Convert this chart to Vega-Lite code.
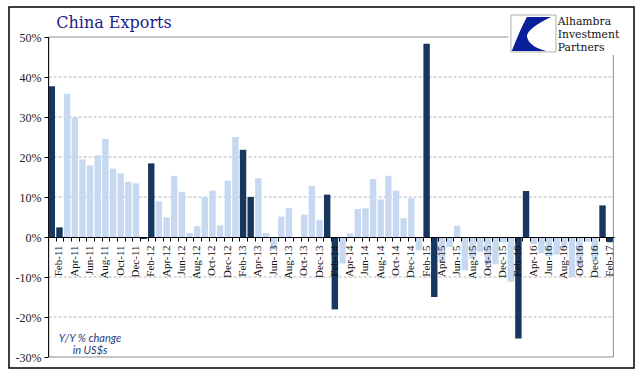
{
  "$schema": "https://vega.github.io/schema/vega-lite/v6.json",
  "width": 625,
  "height": 361,
  "autosize": {"type": "none"},
  "padding": {"left": 9, "top": 7, "right": 7, "bottom": 13},
  "background": "white",
  "config": {"view": {"stroke": "black", "strokeWidth": 1.5}},
  "data": {"values": [
    {"month": "Jan-11", "pct": 37.7, "period": "Lunar New Year"},
    {"month": "Feb-11", "pct": 2.4, "period": "Lunar New Year"},
    {"month": "Mar-11", "pct": 35.8, "period": "Other"},
    {"month": "Apr-11", "pct": 29.9, "period": "Other"},
    {"month": "May-11", "pct": 19.4, "period": "Other"},
    {"month": "Jun-11", "pct": 17.9, "period": "Other"},
    {"month": "Jul-11", "pct": 20.4, "period": "Other"},
    {"month": "Aug-11", "pct": 24.5, "period": "Other"},
    {"month": "Sep-11", "pct": 17.1, "period": "Other"},
    {"month": "Oct-11", "pct": 15.9, "period": "Other"},
    {"month": "Nov-11", "pct": 13.8, "period": "Other"},
    {"month": "Dec-11", "pct": 13.4, "period": "Other"},
    {"month": "Jan-12", "pct": -0.5, "period": "Lunar New Year"},
    {"month": "Feb-12", "pct": 18.4, "period": "Lunar New Year"},
    {"month": "Mar-12", "pct": 8.9, "period": "Other"},
    {"month": "Apr-12", "pct": 4.9, "period": "Other"},
    {"month": "May-12", "pct": 15.3, "period": "Other"},
    {"month": "Jun-12", "pct": 11.3, "period": "Other"},
    {"month": "Jul-12", "pct": 1.0, "period": "Other"},
    {"month": "Aug-12", "pct": 2.7, "period": "Other"},
    {"month": "Sep-12", "pct": 9.9, "period": "Other"},
    {"month": "Oct-12", "pct": 11.6, "period": "Other"},
    {"month": "Nov-12", "pct": 2.9, "period": "Other"},
    {"month": "Dec-12", "pct": 14.1, "period": "Other"},
    {"month": "Jan-13", "pct": 25.0, "period": "Other"},
    {"month": "Feb-13", "pct": 21.8, "period": "Lunar New Year"},
    {"month": "Mar-13", "pct": 10.0, "period": "Lunar New Year"},
    {"month": "Apr-13", "pct": 14.7, "period": "Other"},
    {"month": "May-13", "pct": 1.0, "period": "Other"},
    {"month": "Jun-13", "pct": -3.1, "period": "Other"},
    {"month": "Jul-13", "pct": 5.1, "period": "Other"},
    {"month": "Aug-13", "pct": 7.2, "period": "Other"},
    {"month": "Sep-13", "pct": -0.3, "period": "Other"},
    {"month": "Oct-13", "pct": 5.6, "period": "Other"},
    {"month": "Nov-13", "pct": 12.7, "period": "Other"},
    {"month": "Dec-13", "pct": 4.3, "period": "Other"},
    {"month": "Jan-14", "pct": 10.6, "period": "Lunar New Year"},
    {"month": "Feb-14", "pct": -18.1, "period": "Lunar New Year"},
    {"month": "Mar-14", "pct": -6.6, "period": "Other"},
    {"month": "Apr-14", "pct": 0.9, "period": "Other"},
    {"month": "May-14", "pct": 7.0, "period": "Other"},
    {"month": "Jun-14", "pct": 7.2, "period": "Other"},
    {"month": "Jul-14", "pct": 14.5, "period": "Other"},
    {"month": "Aug-14", "pct": 9.4, "period": "Other"},
    {"month": "Sep-14", "pct": 15.3, "period": "Other"},
    {"month": "Oct-14", "pct": 11.6, "period": "Other"},
    {"month": "Nov-14", "pct": 4.7, "period": "Other"},
    {"month": "Dec-14", "pct": 9.7, "period": "Other"},
    {"month": "Jan-15", "pct": -3.3, "period": "Other"},
    {"month": "Feb-15", "pct": 48.3, "period": "Lunar New Year"},
    {"month": "Mar-15", "pct": -15.0, "period": "Lunar New Year"},
    {"month": "Apr-15", "pct": -6.4, "period": "Other"},
    {"month": "May-15", "pct": -2.5, "period": "Other"},
    {"month": "Jun-15", "pct": 2.8, "period": "Other"},
    {"month": "Jul-15", "pct": -8.3, "period": "Other"},
    {"month": "Aug-15", "pct": -5.5, "period": "Other"},
    {"month": "Sep-15", "pct": -3.7, "period": "Other"},
    {"month": "Oct-15", "pct": -6.9, "period": "Other"},
    {"month": "Nov-15", "pct": -6.8, "period": "Other"},
    {"month": "Dec-15", "pct": -1.4, "period": "Other"},
    {"month": "Jan-16", "pct": -11.2, "period": "Other"},
    {"month": "Feb-16", "pct": -25.4, "period": "Lunar New Year"},
    {"month": "Mar-16", "pct": 11.5, "period": "Lunar New Year"},
    {"month": "Apr-16", "pct": -1.8, "period": "Other"},
    {"month": "May-16", "pct": -4.1, "period": "Other"},
    {"month": "Jun-16", "pct": -4.8, "period": "Other"},
    {"month": "Jul-16", "pct": -4.4, "period": "Other"},
    {"month": "Aug-16", "pct": -2.8, "period": "Other"},
    {"month": "Sep-16", "pct": -10.0, "period": "Other"},
    {"month": "Oct-16", "pct": -7.3, "period": "Other"},
    {"month": "Nov-16", "pct": -1.2, "period": "Other"},
    {"month": "Dec-16", "pct": -6.1, "period": "Other"},
    {"month": "Jan-17", "pct": 7.9, "period": "Lunar New Year"},
    {"month": "Feb-17", "pct": -1.3, "period": "Lunar New Year"}
  ]},
  "layer": [
    {
      "data": {"values": [{"g": -20}, {"g": -10}, {"g": 10}, {"g": 20}, {"g": 30}, {"g": 40}]},
      "mark": {"type": "rule", "color": "#b5b5b5", "strokeWidth": 1, "strokeDash": [3, 2]},
      "encoding": {
        "x": {"datum": "Jan-11", "type": "ordinal", "bandPosition": 0},
        "x2": {"datum": "Feb-17", "bandPosition": 1},
        "y": {"field": "g", "type": "quantitative", "title": null}
      }
    },
    {
      "mark": {"type": "bar"},
      "encoding": {
        "x": {
          "field": "month", "type": "ordinal", "sort": null,
          "scale": {
            "domain": ["Jan-11","Feb-11","Mar-11","Apr-11","May-11","Jun-11","Jul-11","Aug-11","Sep-11","Oct-11","Nov-11","Dec-11",
                       "Jan-12","Feb-12","Mar-12","Apr-12","May-12","Jun-12","Jul-12","Aug-12","Sep-12","Oct-12","Nov-12","Dec-12",
                       "Jan-13","Feb-13","Mar-13","Apr-13","May-13","Jun-13","Jul-13","Aug-13","Sep-13","Oct-13","Nov-13","Dec-13",
                       "Jan-14","Feb-14","Mar-14","Apr-14","May-14","Jun-14","Jul-14","Aug-14","Sep-14","Oct-14","Nov-14","Dec-14",
                       "Jan-15","Feb-15","Mar-15","Apr-15","May-15","Jun-15","Jul-15","Aug-15","Sep-15","Oct-15","Nov-15","Dec-15",
                       "Jan-16","Feb-16","Mar-16","Apr-16","May-16","Jun-16","Jul-16","Aug-16","Sep-16","Oct-16","Nov-16","Dec-16",
                       "Jan-17","Feb-17"],
            "range": [39, 605],
            "paddingInner": 0.16,
            "paddingOuter": 0.08
          },
          "axis": {
            "title": null, "orient": "bottom", "offset": -131, "bandPosition": 0,
            "labelAngle": -90, "labelAlign": "right", "labelBaseline": "middle",
            "labelExpr": "test(/^(Feb|Apr|Jun|Aug|Oct|Dec)/, datum.value) ? datum.value : ''",
            "labelFont": "Liberation Serif", "labelFontSize": 11, "labelColor": "#111111",
            "labelPadding": 4, "tickSize": 4, "tickColor": "#000000", "domainColor": "#000000",
            "labelOverlap": false, "labelBound": false, "labelFlush": false, "zindex": 1, "grid": false
          }
        },
        "y": {
          "field": "pct", "type": "quantitative",
          "scale": {"domain": [-32.75, 57.5], "nice": false, "zero": false},
          "axis": {
            "title": null, "orient": "left", "offset": -39, "values": [-30, -20, -10, 0, 10, 20, 30, 40, 50],
            "labelExpr": "datum.value + '%'", "grid": false, "domain": false,
            "labelFont": "Liberation Serif", "labelFontSize": 12, "labelColor": "#222222",
            "tickSize": 4, "tickColor": "#000000", "labelPadding": 3
          }
        },
        "y2": {"datum": 0},
        "color": {
          "field": "period", "type": "nominal",
          "scale": {"domain": ["Lunar New Year", "Other"], "range": ["#17375e", "#c6d9f1"]},
          "legend": null
        }
      }
    },
    {
      "data": {"values": [{}]},
      "mark": {"type": "rect", "fillOpacity": 0, "stroke": "#8c8c8c", "strokeWidth": 1},
      "encoding": {
        "x": {"datum": "Jan-11", "type": "ordinal", "bandPosition": 0},
        "x2": {"datum": "Feb-17", "bandPosition": 1},
        "y": {"datum": 50, "type": "quantitative"},
        "y2": {"datum": -30}
      }
    },
    {
      "data": {"values": [{}]},
      "mark": {"type": "rule", "color": "#000000", "strokeWidth": 1},
      "encoding": {
        "x": {"datum": "Jan-11", "type": "ordinal", "bandPosition": 0},
        "y": {"datum": 50, "type": "quantitative"},
        "y2": {"datum": -30}
      }
    },
    {
      "data": {"values": [{}]},
      "mark": {"type": "point", "shape": "M-1,-0.339H1V0.339H-1Z", "size": 15376, "filled": true, "fill": "#ffffff", "fillOpacity": 1, "strokeWidth": 0, "opacity": 1},
      "encoding": {
        "x": {"datum": "Sep-16", "type": "ordinal", "bandPosition": 0.24},
        "y": {"datum": 50.75, "type": "quantitative"}
      }
    },
    {
      "data": {"values": [{}]},
      "mark": {"type": "point", "shape": "M-1,-0.82H1V0.82H-1Z", "size": 2025, "filled": false, "fill": "#ffffff", "fillOpacity": 1, "stroke": "#b0b0b0", "strokeWidth": 1, "opacity": 1},
      "encoding": {
        "x": {"datum": "Apr-16", "type": "ordinal", "bandPosition": 0.46},
        "y": {"datum": 50.875, "type": "quantitative"}
      }
    },
    {
      "data": {"values": [{}]},
      "mark": {"type": "point", "shape": "M-0.29,-0.73L0.78,-0.73Q-0.24,-0.24,-0.29,0.11Q-0.24,0.56,0.56,0.78L-0.96,0.78Q-0.6,-0.16,-0.29,-0.73Z", "size": 2025, "filled": true, "fill": "#0a1f9a", "fillOpacity": 1, "strokeWidth": 0, "opacity": 1},
      "encoding": {
        "x": {"datum": "Apr-16", "type": "ordinal", "bandPosition": 0.46},
        "y": {"datum": 50.875, "type": "quantitative"}
      }
    },
    {
      "data": {"values": [{}]},
      "mark": {"type": "text", "text": ["Alhambra", "Investment", "Partners"], "align": "left", "baseline": "alphabetic", "lineHeight": 12.8, "font": "DejaVu Serif", "fontSize": 10.8, "color": "#111111"},
      "encoding": {
        "x": {"datum": "Jul-16", "type": "ordinal", "bandPosition": 0.67},
        "y": {"datum": 52.9, "type": "quantitative"}
      }
    },
    {
      "data": {"values": [{}]},
      "mark": {"type": "text", "text": "China Exports", "align": "left", "baseline": "alphabetic", "font": "DejaVu Serif", "fontSize": 16, "color": "#1c1c8a"},
      "encoding": {
        "x": {"datum": "Feb-11", "type": "ordinal", "bandPosition": 0},
        "y": {"datum": 52.25, "type": "quantitative"}
      }
    },
    {
      "data": {"values": [{}]},
      "mark": {"type": "text", "text": ["Y/Y % change", "in US$s"], "align": "center", "baseline": "middle", "lineHeight": 12, "font": "Lato", "fontStyle": "italic", "fontSize": 11, "color": "#1f3d7a"},
      "encoding": {
        "x": {"datum": "Jun-11", "type": "ordinal"},
        "y": {"datum": -25.5, "type": "quantitative"}
      }
    }
  ]
}
